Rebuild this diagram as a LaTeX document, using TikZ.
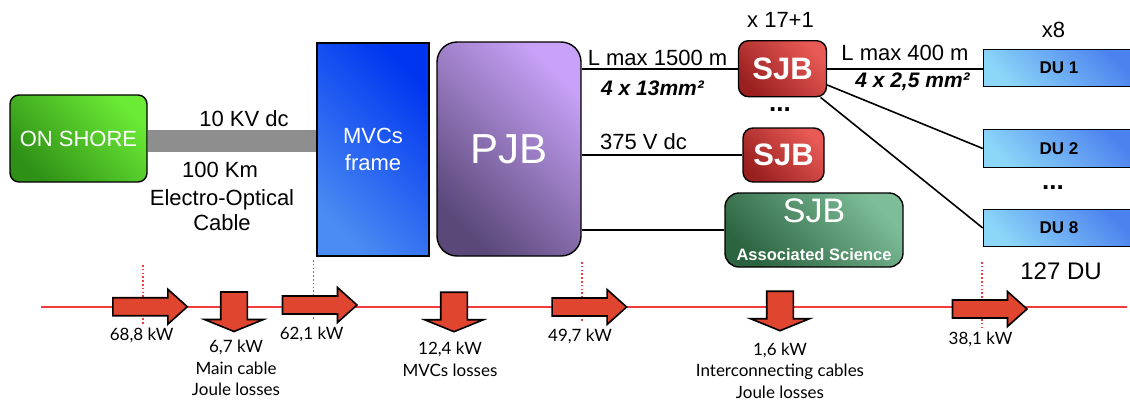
\documentclass[tikz,border=0pt]{standalone}
\usepackage{fontspec}
\setmainfont{Liberation Sans}
\newfontfamily\gillfont{Lato}
\usetikzlibrary{backgrounds}
\newcommand\fsz[2]{\fontsize{#1}{#2}\selectfont}
\definecolor{shoreL}{HTML}{6BEB35}
\definecolor{shoreD}{HTML}{2E9016}
\definecolor{mvcL}{HTML}{4A8CF2}
\definecolor{mvcD}{HTML}{0035F0}
\definecolor{pjbL}{HTML}{C8A2F8}
\definecolor{pjbD}{HTML}{5A4878}
\definecolor{sjbL}{HTML}{E85A55}
\definecolor{sjbD}{HTML}{9A2020}
\definecolor{sciL}{HTML}{7DBE98}
\definecolor{sciD}{HTML}{2C6440}
\definecolor{duL}{HTML}{8CD6F8}
\definecolor{duD}{HTML}{4C82EE}
\definecolor{cableGray}{HTML}{8E8E8E}
\definecolor{flowRed}{HTML}{F03C3C}
\definecolor{arrowFill}{HTML}{E04530}

\tikzset{
  flowarrow/.style={fill=arrowFill, draw=black, line width=1.6pt, line join=miter},
  pics/rflow/.style={code={
    \path[flowarrow] (-74.5,-9) -- (-19.5,-9) -- (-19.5,-17.5) -- (0,0)
      -- (-19.5,17.5) -- (-19.5,9) -- (-74.5,9) -- cycle;}},
  pics/dflow/.style={code={
    \path[flowarrow] (-13.3,-39.5) -- (13.3,-39.5) -- (13.3,-12) -- (29.5,-12)
      -- (0,0) -- (-29.5,-12) -- (-13.3,-12) -- cycle;}},
}

\begin{document}
\begin{tikzpicture}[x=1pt,y=-1pt,
  box/.style={draw=black, line width=1.4pt, text=white, inner sep=0pt, align=center},
  diag/.style 2 args={top color=#1, bottom color=#2, shading angle=-45},
  wire/.style={draw=black, line width=1.6pt},
  lbl/.style={font=\fsz{22}{25}, inner sep=0pt, align=center},
  secn/.style={lbl, font=\bfseries\itshape\fsz{21}{25}},
  more/.style={lbl, font=\bfseries\fsz{26}{30}},
  kw/.style={font=\gillfont\fsz{17}{21.5}, inner sep=0pt, align=center},
  tick/.style={draw=flowRed, line width=1.6pt, dash pattern=on 1.6pt off 2.2pt},
  dubox/.style={box, diag={duD}{duL}, line width=1pt, text=black,
    font=\bfseries\fsz{17}{20}, minimum width=151.4pt, minimum height=37.4pt},
  redsjb/.style={box, diag={sjbL}{sjbD}, rounded corners=10pt, font=\bfseries\fsz{31}{34}},
]
\useasboundingbox (0,0) rectangle (1130,402);

% main blocks
\node[box, diag={shoreL}{shoreD}, rounded corners=9pt, minimum width=137pt,
  minimum height=87pt, font=\fsz{22}{25}] (onshore) at (78.5,138.5) {ON SHORE};
\node[box, diag={mvcD}{mvcL}, minimum width=112pt, minimum height=213pt,
  font=\fsz{22}{26.7}] (mvcs) at (373,149.5) {MVCs\\frame};
\node[box, diag={pjbL}{pjbD}, rounded corners=20pt, minimum width=144pt,
  minimum height=214pt, font=\fsz{42}{50}] (pjb) at (509,149) {PJB};
\node[redsjb, minimum width=88pt, minimum height=56pt] (sjbA) at (782.5,68.7) {SJB};
\node[redsjb, minimum width=81pt, minimum height=54pt] (sjbB) at (783.5,155) {SJB};
\node[box, diag={sciL}{sciD}, rounded corners=14pt, minimum width=178pt,
  minimum height=74pt, font=\fsz{34}{34}] (sjbC) at (814,230)
  {SJB\\[4pt]\bfseries\fsz{16.5}{20}Associated Science};

% detection units
\node[dubox] (du1) at (1059,68) {DU 1};
\node[dubox] (du2) at (1059,148.5) {DU 2};
\node[dubox] (du8) at (1059,228) {DU 8};

% cables
\coordinate (barlevel) at (0,141);
\begin{scope}[on background layer]
  \draw[line width=22pt, cableGray] (onshore.east |- barlevel) -- (mvcs.west |- barlevel);
  \draw[wire] (pjb.east |- sjbA.west) -- (sjbA.west);
  \draw[wire] (pjb.east |- sjbB.west) -- (sjbB.west);
  \draw[wire] (pjb.east |- sjbC.west) -- (sjbC.west);
  \draw[wire] (sjbA.east) -- (sjbA.east -| du1.west);
  \draw[wire] (sjbA.-20) -- (du2.west);
  \draw[wire] (sjbA.-37) -- (du8.west);
\end{scope}

% cable annotations
\node[lbl] (volt) at (244,119) {10 KV dc};
\node[lbl] (dist) at (220,170) {100 Km};
\node[lbl] (eoc) at (222,210.5) {Electro-Optical\\Cable};
\node[lbl] (len1) at (657.5,58) {L max 1500 m};
\node[secn] (sec1) at (652.5,88) {4 x 13mm²};
\node[lbl] (vdc) at (643.5,142) {375 V dc};
\node[lbl] (nsjb) at (780.5,20) {x 17+1};
\node[more] (dots1) at (780,110) {...};
\node[lbl] (len2) at (905,53) {L max 400 m};
\node[secn] (sec2) at (912.5,82) {4 x 2,5 mm²};
\node[lbl] (ndu) at (1053.5,30) {x8};
\node[more] (dots2) at (1053,188) {...};
\node[lbl, font=\fsz{24}{28}] (total) at (1061,271) {127 DU};

% power budget along the chain
\coordinate (flowL) at (41,307);
\coordinate (flowR) at (1127,307);
\draw[flowRed, line width=1.5pt] (flowL) -- (flowR);
\draw[tick] (143,265) -- (143,324);
\draw[tick] (313.6,260) -- (313.6,320);
\draw[tick] (582,262) -- (582,322);
\draw[tick] (982,262) -- (982,327);

\pic at (187.3,306.7) {rflow};
\pic at (357,305) {rflow};
\pic at (626.6,307) {rflow};
\pic at (1027,309) {rflow};
\pic at (234,331.5) {dflow};
\pic at (454,331.7) {dflow};
\pic at (780,330.7) {dflow};

\node[kw] (p1) at (141.7,335) {68,8 kW};
\node[kw] (l1) at (236,368) {6,7 kW\\Main cable\\Joule losses};
\node[kw] (p2) at (311.6,334.3) {62,1 kW};
\node[kw] (l2) at (450,359.2) {12,4 kW\\MVCs losses};
\node[kw] (p3) at (580,336.7) {49,7 kW};
\node[kw] (l3) at (780,370.8) {1,6 kW\\Interconnecting cables\\Joule losses};
\node[kw] (p4) at (980.5,339) {38,1 kW};
\end{tikzpicture}
\end{document}
